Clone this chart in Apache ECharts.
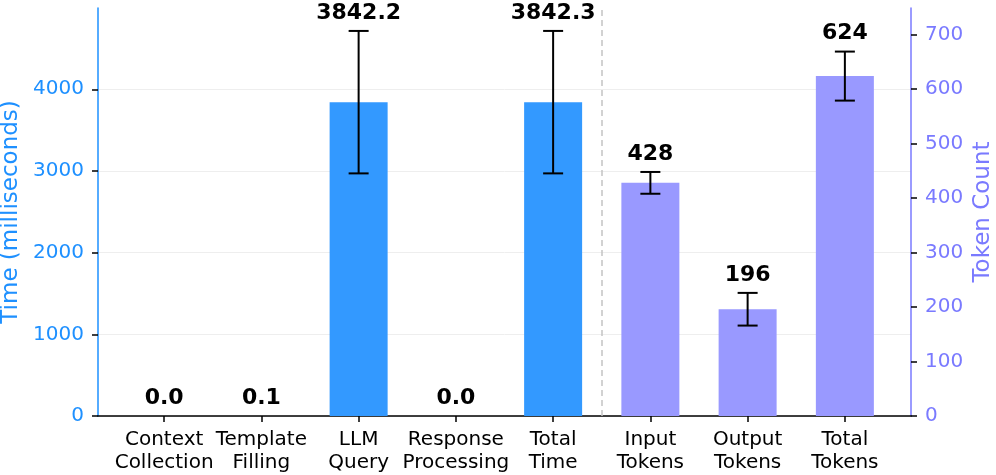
<!DOCTYPE html>
<html>
<head>
<meta charset="utf-8">
<script src="https://cdn.jsdelivr.net/npm/echarts@6/dist/echarts.min.js"></script>
<style>html,body{margin:0;padding:0;background:#fff}#c{width:996px;height:475px}</style>
</head>
<body>
<div id="c"></div>
<script>
const categories = ['Context\nCollection', 'Template\nFilling', 'LLM\nQuery', 'Response\nProcessing', 'Total\nTime', 'Input\nTokens', 'Output\nTokens', 'Total\nTokens'];
const timeX = [0, 1, 2, 3, 4];
const timeMeans = [0.02, 0.08, 3842.2, 0.01, 3842.3];
const timeErr = [0, 0, 872, 0, 872];
const tokenX = [5, 6, 7];
const tokenMeans = [428, 196, 624];
const tokenErr = [20, 30, 45];
const leftTicks = [0, 1000, 2000, 3000, 4000];
const rightTicks = [0, 100, 200, 300, 400, 500, 600, 700];
const catTicks = [0, 1, 2, 3, 4, 5, 6, 7];

const FONT = 'DejaVu Sans';
const timeColor = '#1E90FF';
const tokenAxisColor = '#7A7AFF';

function errRenderer(fmt) {
  return function (params, api) {
    const x = api.value(0), m = api.value(1), e = api.value(2);
    const c = api.coord([x, m]);
    const children = [];
    let topY = c[1];
    if (e > 0) {
      const t = api.coord([x, m + e]);
      const b = api.coord([x, m - e]);
      topY = t[1];
      const ls = { stroke: '#000', lineWidth: 2 };
      children.push({ type: 'line', shape: { x1: c[0], y1: t[1], x2: c[0], y2: b[1] }, style: ls });
      children.push({ type: 'line', shape: { x1: c[0] - 10, y1: t[1], x2: c[0] + 10, y2: t[1] }, style: ls });
      children.push({ type: 'line', shape: { x1: c[0] - 10, y1: b[1], x2: c[0] + 10, y2: b[1] }, style: ls });
    }
    children.push({
      type: 'text',
      style: { text: fmt(m), x: c[0], y: topY - 7, align: 'center', verticalAlign: 'bottom',
               font: 'bold 22px "' + FONT + '"', fill: '#000' }
    });
    return { type: 'group', children };
  };
}

const chart = echarts.init(document.getElementById('c'));
chart.setOption({
  animation: false,
  backgroundColor: '#fff',
  textStyle: { fontFamily: FONT },
  grid: { left: 98, right: 85, top: 8, bottom: 59, containLabel: false, outerBoundsMode: 'none' },
  xAxis: {
    type: 'value', min: -0.68, max: 7.68,
    splitLine: { show: false },
    axisLine: { lineStyle: { color: '#000', width: 1.5 }, onZero: false },
    axisTick: { customValues: catTicks, length: 6, lineStyle: { color: '#000', width: 1.5 } },
    axisLabel: { customValues: catTicks, formatter: v => categories[Math.round(v)], color: '#000',
                 fontSize: 20, lineHeight: 23.5, margin: 12, fontFamily: FONT,
                 hideOverlap: false, showMinLabel: true, showMaxLabel: true }
  },
  yAxis: [
    {
      type: 'value', min: 0, max: 4995, position: 'left',
      name: 'Time (milliseconds)', nameLocation: 'middle', nameGap: 75, nameMoveOverlap: false,
      nameTextStyle: { color: timeColor, fontSize: 23, fontFamily: FONT },
      axisLine: { show: true, onZero: false, lineStyle: { color: timeColor, width: 1.5 } },
      axisTick: { show: true, customValues: leftTicks, length: 6, lineStyle: { color: '#000', width: 1.5 } },
      axisLabel: { customValues: leftTicks, formatter: v => String(v), color: timeColor, fontSize: 20, margin: 14, fontFamily: FONT },
      splitLine: { show: true, lineStyle: { color: '#eeeeee', width: 1 } }
    },
    {
      type: 'value', min: 0, max: 749, position: 'right',
      name: 'Token Count', nameLocation: 'middle', nameGap: 61, nameMoveOverlap: false,
      nameTextStyle: { color: tokenAxisColor, fontSize: 23, fontFamily: FONT },
      axisLine: { show: true, onZero: false, lineStyle: { color: tokenAxisColor, width: 1.5 } },
      axisTick: { show: true, customValues: rightTicks, length: 6, lineStyle: { color: '#000', width: 1.5 } },
      axisLabel: { customValues: rightTicks, formatter: v => String(v), color: tokenAxisColor, fontSize: 20, margin: 14, fontFamily: FONT },
      splitLine: { show: false }
    }
  ],
  series: [
    {
      type: 'bar', yAxisIndex: 0, barWidth: 58, barGap: '-100%',
      itemStyle: { color: '#3399FF' },
      data: timeX.map((x, i) => [x, timeMeans[i]]),
      markLine: {
        symbol: 'none', silent: true, label: { show: false },
        lineStyle: { type: [6, 4], color: '#c4c4c4', width: 1.5 },
        data: [{ xAxis: 4.5 }]
      }
    },
    {
      type: 'bar', yAxisIndex: 1, barWidth: 58, barGap: '-100%',
      itemStyle: { color: '#9999FF' },
      data: tokenX.map((x, i) => [x, tokenMeans[i]])
    },
    {
      type: 'custom', yAxisIndex: 0, clip: false,
      renderItem: errRenderer(v => v.toFixed(1)),
      data: timeX.map((x, i) => [x, timeMeans[i], timeErr[i]]),
      z: 5
    },
    {
      type: 'custom', yAxisIndex: 1, clip: false,
      renderItem: errRenderer(v => String(Math.round(v))),
      data: tokenX.map((x, i) => [x, tokenMeans[i], tokenErr[i]]),
      z: 5
    }
  ]
});
</script>
</body>
</html>
